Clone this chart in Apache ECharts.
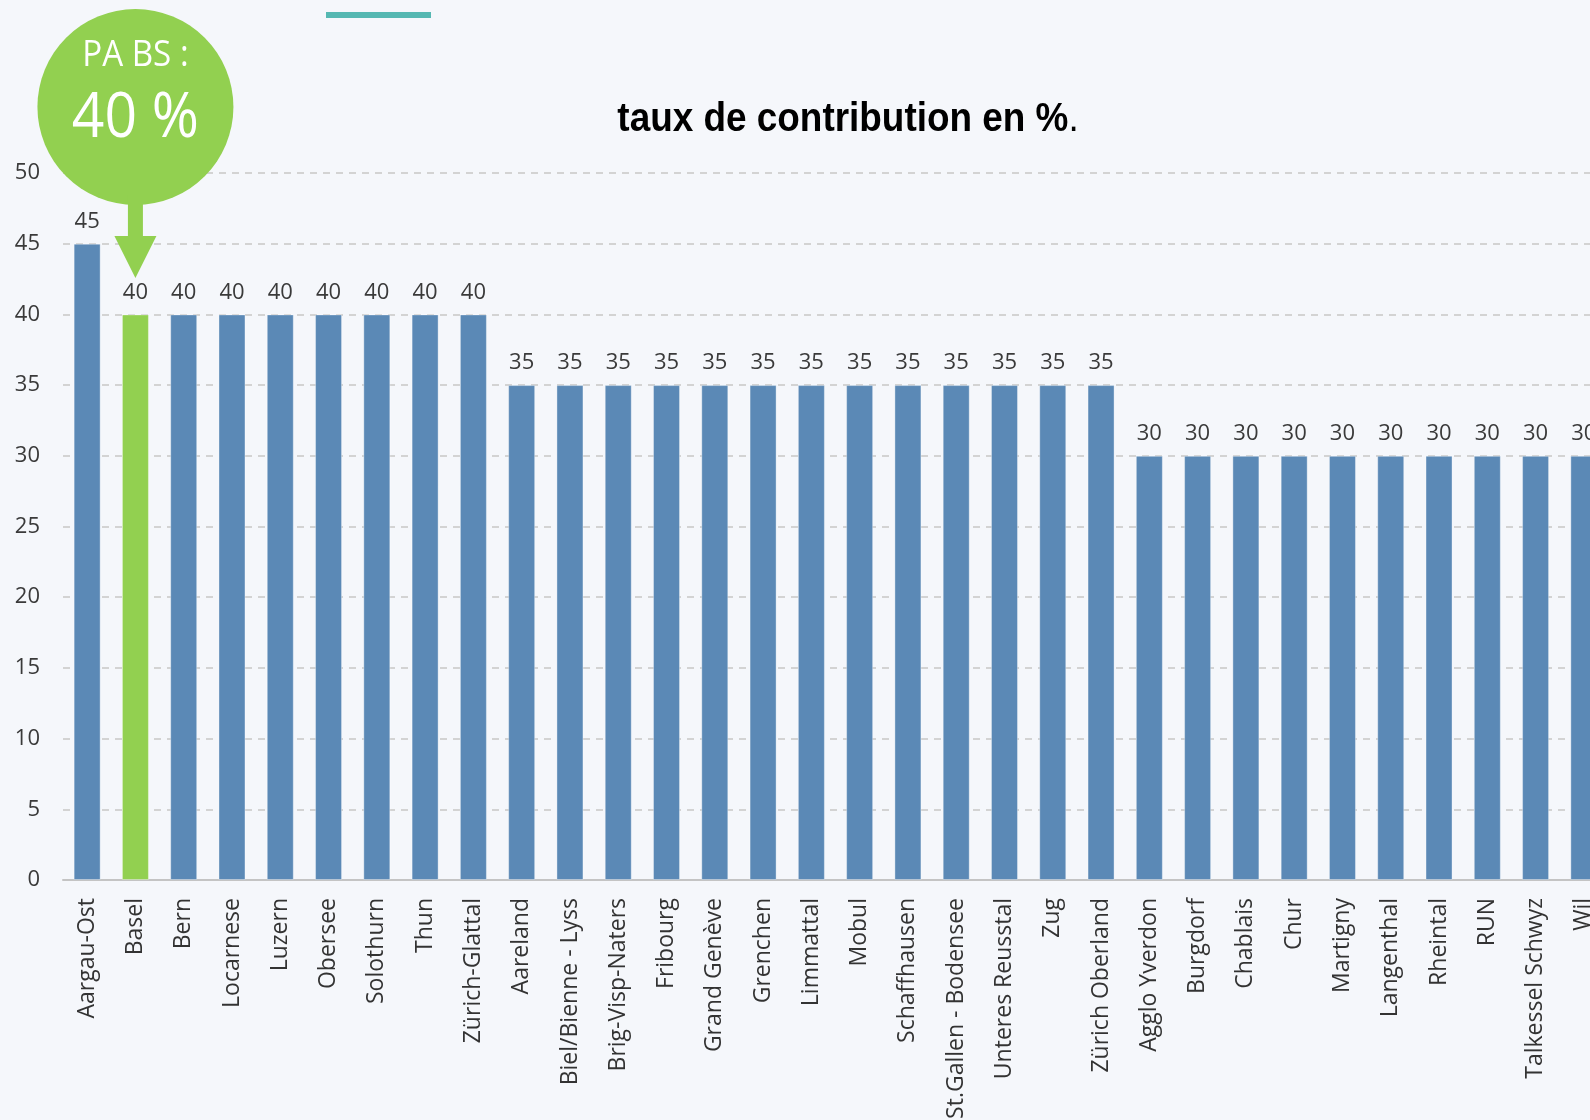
<!DOCTYPE html>
<html>
<head>
<meta charset="utf-8">
<script src="https://cdn.jsdelivr.net/npm/echarts@6/dist/echarts.min.js"></script>
<style>
	html, body { margin: 0; padding: 0; background: #f5f7fb; }
	#chart { width: 1590px; height: 1120px; }
</style>
</head>
<body>
<div id="chart"></div>
<script>
	// régions (ordre du graphique)
	var categories = [
		'Aargau-Ost', 'Basel', 'Bern', 'Locarnese', 'Luzern', 'Obersee', 'Solothurn', 'Thun', 'Zürich-Glattal',
		'Aareland', 'Biel/Bienne - Lyss', 'Brig-Visp-Naters', 'Fribourg', 'Grand Genève', 'Grenchen', 'Limmattal',
		'Mobul', 'Schaffhausen', 'St.Gallen - Bodensee', 'Unteres Reusstal', 'Zug', 'Zürich Oberland',
		'Agglo Yverdon', 'Burgdorf', 'Chablais', 'Chur', 'Martigny', 'Langenthal', 'Rheintal', 'RUN',
		'Talkessel Schwyz', 'Wil'
	];
	// taux de contribution en %
	var values = [
		45, 40, 40, 40, 40, 40, 40, 40, 40,
		35, 35, 35, 35, 35, 35, 35, 35, 35, 35, 35, 35, 35,
		30, 30, 30, 30, 30, 30, 30, 30, 30, 30
	];
	var yTicks = [0, 5, 10, 15, 20, 25, 30, 35, 40, 45, 50];
	var highlight = 'Basel';
	var calloutTitle = 'PA BS :';
	var calloutValue = '40 %';

	var blue = '#5b89b6';
	var green = '#92d050';
	var textColor = '#3a3a3a';

	var myChart = echarts.init(document.getElementById('chart'));

	var option = {
		backgroundColor: '#f5f7fb',
		animation: false,
		grid: {
			top: 173,
			bottom: 240,
			left: 63,
			right: -18,
			outerBoundsMode: 'none'
		},
		xAxis: {
			type: 'category',
			data: categories,
			axisTick: { show: false },
			axisLine: { lineStyle: { color: '#c4c4c4', width: 2 } },
			axisLabel: {
				interval: 0,
				rotate: 90,
				margin: 18,
				color: '#333',
				fontFamily: 'Open Sans',
				fontSize: 23
			}
		},
		yAxis: {
			type: 'value',
			min: yTicks[0],
			max: yTicks[yTicks.length - 1],
			interval: 5,
			axisLine: { show: false },
			axisTick: { show: false },
			axisLabel: {
				margin: 23,
				color: textColor,
				fontFamily: 'Open Sans',
				fontSize: 22
			},
			splitLine: {
				lineStyle: { color: '#d3d3d3', width: 2, type: [7, 6] }
			}
		},
		series: [{
			type: 'bar',
			barWidth: 27,
			data: values.map(function (v, i) {
				return {
					value: v,
					itemStyle: { color: categories[i] === highlight ? green : blue }
				};
			}),
			itemStyle: { borderColor: 'rgba(255,255,255,0.35)', borderWidth: 1 },
			label: {
				show: true,
				position: 'top',
				distance: 11,
				color: textColor,
				fontFamily: 'Open Sans',
				fontSize: 22
			}
		}]
	};
	myChart.setOption(option);

	// annotations : bulle verte au-dessus de la barre mise en évidence
	var hi = values[categories.indexOf(highlight)];
	var cx = myChart.convertToPixel({ gridIndex: 0 }, [highlight, hi])[0];
	myChart.setOption({
		graphic: [
			{ type: 'rect', shape: { x: 326, y: 12, width: 105, height: 6 }, style: { fill: '#55b8b2' } },
			{
				type: 'text', x: 848, y: 120, scaleX: 0.9,
				style: {
					text: '{b|taux de contribution en %}{n|.}',
					align: 'center', verticalAlign: 'middle',
					rich: {
						b: { font: 'bold 41px "Liberation Sans"', fill: '#000' },
						n: { font: '41px "Liberation Sans"', fill: '#000' }
					}
				}
			},
			{ type: 'circle', shape: { cx: cx, cy: 107, r: 98 }, style: { fill: green } },
			{
				type: 'polygon',
				shape: {
					points: [
						[cx - 7.5, 195], [cx + 7.5, 195], [cx + 7.5, 236], [cx + 21, 236],
						[cx, 278], [cx - 21, 236], [cx - 7.5, 236]
					]
				},
				style: { fill: green }
			},
			{
				type: 'text', x: cx, y: 56, scaleX: 0.92,
				style: {
					text: calloutTitle, fill: '#fff', align: 'center', verticalAlign: 'middle',
					font: '36px "Open Sans"'
				}
			},
			{
				type: 'text', x: cx, y: 119, scaleX: 0.92,
				style: {
					text: calloutValue, fill: '#fff', align: 'center', verticalAlign: 'middle',
					font: '62px "Open Sans"'
				}
			}
		]
	});
</script>
</body>
</html>
